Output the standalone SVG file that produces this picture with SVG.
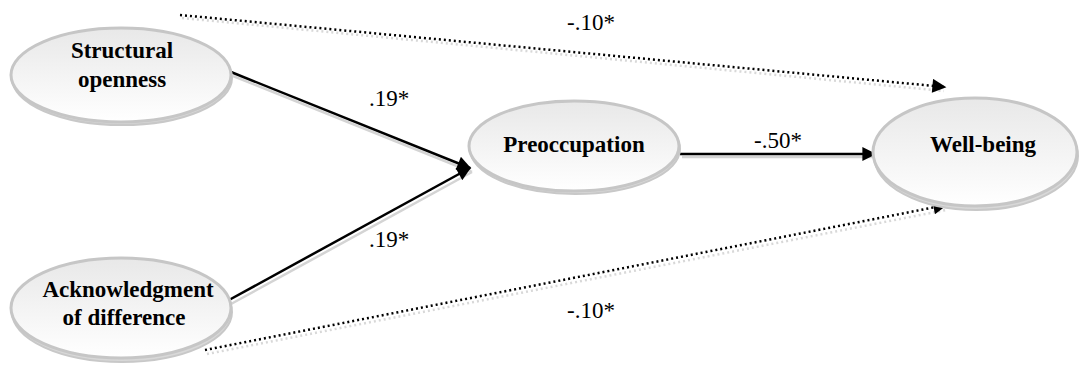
<svg xmlns="http://www.w3.org/2000/svg" width="1081" height="370" viewBox="0 0 1081 370">
<defs>
<linearGradient id="g" x1="0" y1="0" x2="0" y2="1">
<stop offset="0" stop-color="#e8e8e8"/>
<stop offset="1" stop-color="#ffffff"/>
</linearGradient>
<marker id="ah" viewBox="0 0 10 10" refX="9" refY="5" markerWidth="15" markerHeight="14" markerUnits="userSpaceOnUse" orient="auto">
<path d="M0,0 L10,5 L0,10 z" fill="#000"/>
</marker>
</defs>
<style>
.sh{fill:#d8d8d8;stroke:#c8c8c8;stroke-width:2}
.el{fill:url(#g);stroke:#c6c6c6;stroke-width:3}
.t{font-family:'Liberation Serif','DejaVu Serif','Times New Roman',serif;font-weight:bold;font-size:23px;text-anchor:middle;fill:#000}
.lb{font-family:'Liberation Serif','DejaVu Serif','Times New Roman',serif;font-size:23px;text-anchor:middle;fill:#000}
.s{stroke:#000;stroke-width:2.5;fill:none}
.ss{stroke:#d4d4d4;stroke-width:2.5;fill:none}
.d{stroke:#000;stroke-width:2.5;stroke-dasharray:2 3;fill:none}
.ds{stroke:#d8d8d8;stroke-width:2.5;stroke-dasharray:2 3;fill:none}
</style>
<g id="connectors">
<line class="ds" x1="182" y1="18" x2="944" y2="91"/>
<line class="d" x1="180" y1="15" x2="945" y2="87" marker-end="url(#ah)"/>
<line class="ds" x1="207" y1="354" x2="946" y2="210"/>
<line class="d" x1="205" y1="350" x2="946" y2="205" marker-end="url(#ah)"/>
<line class="ss" x1="233" y1="76" x2="472" y2="172"/>
<line class="s" x1="231" y1="72" x2="470" y2="168" marker-end="url(#ah)"/>
<line class="ss" x1="231" y1="304" x2="472" y2="172"/>
<line class="s" x1="229" y1="300" x2="470" y2="168" marker-end="url(#ah)"/>
<line class="ss" x1="682" y1="157" x2="874" y2="157"/>
<line class="s" x1="680" y1="154" x2="875" y2="154" marker-end="url(#ah)"/>
<text class="lb" x="591" y="30">-.10*</text>
<text class="lb" x="389" y="106">.19*</text>
<text class="lb" x="389" y="247">.19*</text>
<text class="lb" x="778" y="148">-.50*</text>
<text class="lb" x="591" y="318">-.10*</text>
</g>
<g id="n1">
<ellipse class="sh" cx="122" cy="78" rx="110" ry="47"/>
<ellipse class="el" cx="121" cy="75" rx="110" ry="47"/>
<text class="t" x="122" y="58">Structural</text>
<text class="t" x="122" y="87">openness</text>
</g>
<g id="n2">
<ellipse class="sh" cx="122" cy="312" rx="110" ry="50"/>
<ellipse class="el" cx="121" cy="308" rx="110" ry="50"/>
<text class="t" x="128" y="297">Acknowledgment</text>
<text class="t" x="124" y="325">of difference</text>
</g>
<g id="n3">
<ellipse class="sh" cx="575" cy="149" rx="105" ry="45"/>
<ellipse class="el" cx="574" cy="146" rx="105" ry="45"/>
<text class="t" x="574" y="152">Preoccupation</text>
</g>
<g id="n4">
<ellipse class="sh" cx="976" cy="156" rx="102" ry="54"/>
<ellipse class="el" cx="975" cy="152" rx="102" ry="54"/>
<text class="t" x="983" y="152">Well-being</text>
</g>
</svg>
